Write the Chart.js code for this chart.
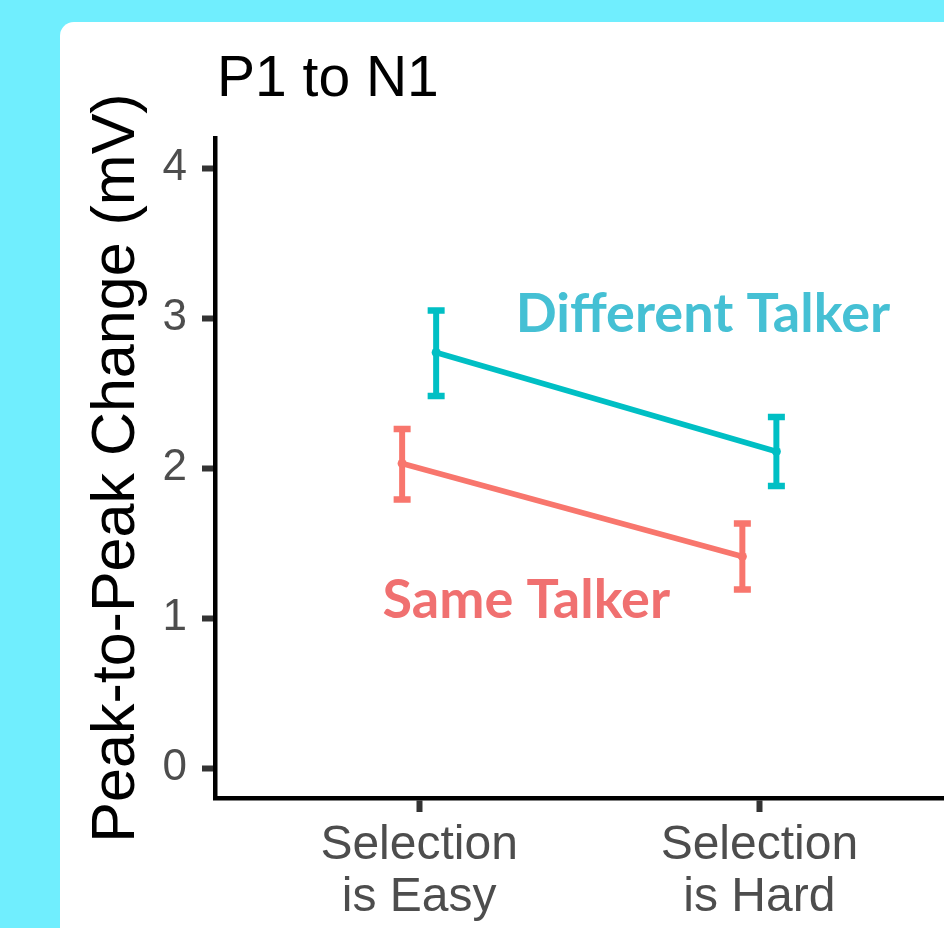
<!DOCTYPE html>
<html>
<head>
<meta charset="utf-8">
<script src="https://cdn.jsdelivr.net/npm/chart.js@4.4.0/dist/chart.umd.min.js"></script>
<style>
  html, body { margin: 0; padding: 0; }
  body { width: 944px; height: 928px; background: #70eefe; overflow: hidden; position: relative; }
  .card { position: absolute; left: 60px; top: 22px; width: 920px; height: 940px; background: #fff; border-radius: 14px; }
  #chart { position: absolute; left: 0; top: 0; }
</style>
</head>
<body>
<div class="card"></div>
<canvas id="chart" width="968" height="928"></canvas>
<script>
// ── data ──
const categories  = [['Selection', 'is Easy'], ['Selection', 'is Hard']];
const catPos      = [1, 2];
const yTicks      = [0, 1, 2, 3, 4];

const sameMean = [2.03, 1.41];
const sameLo   = [1.79, 1.19];
const sameHi   = [2.26, 1.63];

const diffMean = [2.77, 2.11];
const diffLo   = [2.48, 1.88];
const diffHi   = [3.05, 2.34];

// ── look ──
const SAME_COLOR = '#f8766d', DIFF_COLOR = '#00bfc4';
const SAME_TEXT  = '#f07070', DIFF_TEXT  = '#45c0d4';
const DODGE = 0.05;
const SANS = '"Liberation Sans", Arial, Helvetica, sans-serif';
const LABEL_FONT = 'Lato, "Open Sans", sans-serif';
// where the group labels sit, in data units (x, baseline y)
const diffLabelAt = [1.834, 2.907];
const sameLabelAt = [1.315, 1.0];

const groups = [
  { mean: sameMean, lo: sameLo, hi: sameHi, shift: -DODGE, color: SAME_COLOR },
  { mean: diffMean, lo: diffLo, hi: diffHi, shift:  DODGE, color: DIFF_COLOR }
];

const overlay = {
  id: 'overlay',
  beforeDatasetsDraw(chart) {
    const { ctx, scales: { x, y } } = chart;
    ctx.save();
    groups.forEach(g => {
      ctx.strokeStyle = g.color;
      catPos.forEach((c, i) => {
        const px = x.getPixelForValue(c + g.shift);
        const top = y.getPixelForValue(g.hi[i]), bot = y.getPixelForValue(g.lo[i]);
        ctx.lineWidth = 6;
        ctx.beginPath(); ctx.moveTo(px, top); ctx.lineTo(px, bot); ctx.stroke();
        ctx.lineWidth = 6.5;
        ctx.beginPath();
        ctx.moveTo(px - 8.5, top); ctx.lineTo(px + 8.5, top);
        ctx.moveTo(px - 8.5, bot); ctx.lineTo(px + 8.5, bot);
        ctx.stroke();
      });
    });
    ctx.restore();
  },
  afterDraw(chart) {
    const { ctx, scales: { x, y } } = chart;
    ctx.save();
    ctx.textBaseline = 'alphabetic';
    ctx.fillStyle = '#000';
    ctx.textAlign = 'left';
    ctx.font = '57px ' + SANS;
    ctx.fillText('P1 to N1', 217, 96);

    ctx.textAlign = 'center';
    ctx.font = 'bold 54px ' + LABEL_FONT;
    ctx.fillStyle = DIFF_TEXT;
    ctx.fillText('Different Talker', x.getPixelForValue(diffLabelAt[0]), y.getPixelForValue(diffLabelAt[1]));
    ctx.fillStyle = SAME_TEXT;
    ctx.fillText('Same Talker', x.getPixelForValue(sameLabelAt[0]), y.getPixelForValue(sameLabelAt[1]));
    ctx.restore();
  }
};

new Chart(document.getElementById('chart'), {
  type: 'line',
  data: {
    datasets: groups.map((g, k) => ({
      label: k ? 'Different Talker' : 'Same Talker',
      data: catPos.map((c, i) => ({ x: c + g.shift, y: g.mean[i] })),
      borderColor: g.color,
      backgroundColor: g.color,
      borderWidth: 5.5,
      pointRadius: 4.5,
      pointBorderWidth: 0,
      tension: 0
    }))
  },
  options: {
    responsive: false,
    animation: false,
    layout: { padding: { top: 138, right: 0, bottom: 0, left: 0 } },
    plugins: { legend: { display: false }, tooltip: { enabled: false }, title: { display: false } },
    scales: {
      x: {
        type: 'linear', min: 0.4, max: 2.6,
        afterBuildTicks: s => { s.ticks = catPos.map(v => ({ value: v })); },
        afterFit: s => { s.height = 130; },
        ticks: {
          callback: v => categories[Math.round(v) - 1],
          color: '#4d4d4d', padding: 8,
          font: { size: 48, family: SANS, lineHeight: 1.08 },
          maxRotation: 0
        },
        grid: { drawOnChartArea: false, tickLength: 14, tickColor: '#333', tickWidth: 6 },
        border: { color: '#000', width: 4.5 }
      },
      y: {
        type: 'linear', min: -0.2, max: 4.2,
        afterBuildTicks: s => { s.ticks = yTicks.map(v => ({ value: v })); },
        afterFit: s => { s.width = 215; },
        ticks: { color: '#4d4d4d', padding: 15, font: { size: 44, family: SANS } },
        grid: { drawOnChartArea: false, tickLength: 13, tickColor: '#333', tickWidth: 6 },
        border: { color: '#000', width: 4.5 },
        title: {
          display: true, text: 'Peak-to-Peak Change (mV)', color: '#000',
          font: { size: 61, family: SANS }, padding: { top: 81, bottom: 0 }
        }
      }
    }
  },
  plugins: [overlay]
});
</script>
</body>
</html>
